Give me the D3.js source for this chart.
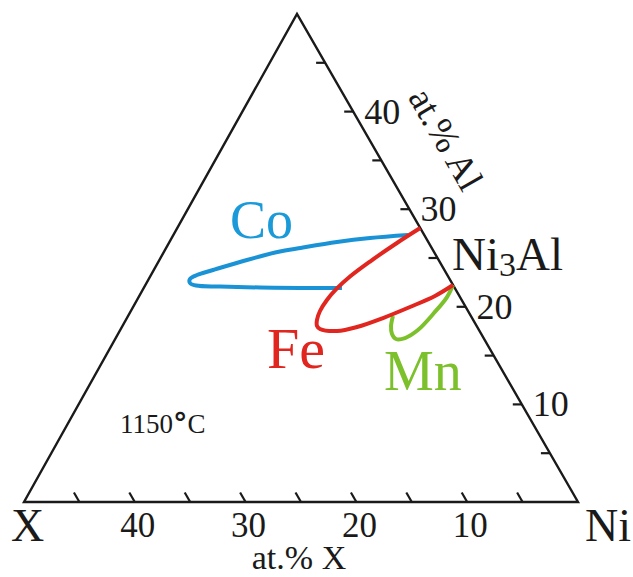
<!DOCTYPE html>
<html>
<head>
<meta charset="utf-8">
<script src="https://cdn.jsdelivr.net/npm/d3@7/dist/d3.min.js"></script>
<style>
  html, body { margin: 0; padding: 0; background: #fff; }
  svg { display: block; }
  text { font-family: "Liberation Serif", "Times New Roman", serif; }
</style>
</head>
<body>
<svg id="chart" width="633" height="577"></svg>
<script>
// ---- data (compositions in at.%: X = at.% X, Al = at.% Al) ----
const bottomTickValues = [5, 10, 15, 20, 25, 30, 35, 40, 45];
const bottomTickLabels = [40, 30, 20, 10];
const rightTickValues = [5, 10, 15, 20, 25, 30, 35, 40, 45];
const rightTickLabels = [10, 20, 30, 40];

const coX  = [1.46, 5.05, 8.24, 12.18, 13.88, 17.30, 20.88, 22.59, 23.43, 23.64, 23.22, 21.11, 17.55, 13.97, 10.18];
const coAl = [27.36, 27.05, 26.64, 25.97, 25.67, 24.80, 23.77, 23.26, 22.85, 22.44, 22.18, 22.08, 21.98, 21.93, 21.93];

const feX  = [0.0, 2.88, 6.27, 8.86, 10.66, 12.16, 13.36, 14.10, 14.41, 14.30, 12.86, 10.85, 8.04, 5.03, 2.20, 0.0];
const feAl = [28.07, 26.54, 24.64, 23.10, 21.88, 20.70, 19.57, 18.65, 18.03, 17.73, 17.52, 17.93, 18.85, 19.98, 21.11, 22.23];

const mnX  = [0.0, 1.17, 3.18, 5.51, 7.09, 7.95, 8.06, 7.73, 7.03];
const mnAl = [22.23, 21.00, 19.36, 17.62, 16.80, 16.70, 17.21, 18.03, 19.06];

// ---- geometry ----
const svg = d3.select("#chart");
const vNi = [578, 502], vX = [24, 502], vTop = [297, 14];
const sX   = d3.scaleLinear().domain([0, 50]).range([vNi[0], vX[0]]);           // X -> horizontal
const sAlX = d3.scaleLinear().domain([0, 50]).range([0, vTop[0] - vNi[0]]);     // Al -> horizontal shift
const sAlY = d3.scaleLinear().domain([0, 50]).range([vNi[1], vTop[1]]);         // Al -> vertical
const P = (X, Al) => [sX(X) + sAlX(Al), sAlY(Al)];

// triangle
svg.append("path")
  .attr("d", d3.line()([P(0,0), P(50,0), P(0,50)]) + "Z")
  .attr("fill", "none").attr("stroke", "#1a1a1a").attr("stroke-width", 2.4)
  .attr("stroke-linejoin", "miter");

// bottom ticks (parallel to Ni-Al side)
const dirR = [vTop[0]-vNi[0], vTop[1]-vNi[1]];
const lenR = Math.hypot(dirR[0], dirR[1]);
const tickLen = 11;
svg.append("g").selectAll("line").data(bottomTickValues).join("line")
  .attr("x1", d => P(d,0)[0]).attr("y1", d => P(d,0)[1])
  .attr("x2", d => P(d,0)[0] + dirR[0]/lenR*tickLen).attr("y2", d => P(d,0)[1] + dirR[1]/lenR*tickLen)
  .attr("stroke", "#1a1a1a").attr("stroke-width", 2.2);

// right ticks (horizontal, constant Al)
svg.append("g").selectAll("line").data(rightTickValues).join("line")
  .attr("x1", d => P(0,d)[0]).attr("y1", d => P(0,d)[1])
  .attr("x2", d => P(0,d)[0] - 9).attr("y2", d => P(0,d)[1])
  .attr("stroke", "#1a1a1a").attr("stroke-width", 2.2);

// bottom tick labels
svg.append("g").selectAll("text").data(bottomTickLabels).join("text")
  .attr("x", d => P(d,0)[0] + 3).attr("y", 537)
  .attr("text-anchor", "middle").attr("font-size", 35).attr("fill", "#1a1a1a")
  .text(d => d);

// right tick labels
svg.append("g").selectAll("text").data(rightTickLabels).join("text")
  .attr("x", d => P(0,d)[0] + 11).attr("y", d => P(0,d)[1] + 12)
  .attr("text-anchor", "start").attr("font-size", 36).attr("fill", "#1a1a1a")
  .text(d => d);

// corner labels
svg.append("text").attr("x", 11).attr("y", 541).attr("font-size", 46).attr("fill", "#1a1a1a").text("X");
svg.append("text").attr("x", 585).attr("y", 541).attr("font-size", 46).attr("fill", "#1a1a1a").text("Ni");
svg.append("text").attr("x", 299).attr("y", 569).attr("text-anchor", "middle")
  .attr("font-size", 34).attr("fill", "#1a1a1a").text("at.% X");

// rotated axis title along the right side
const ang = Math.atan2(-dirR[1], -dirR[0]) * 180 / Math.PI; // ~60 deg
svg.append("text")
  .attr("transform", `translate(446,139) rotate(${ang})`)
  .attr("text-anchor", "middle").attr("dominant-baseline", "central")
  .attr("font-size", 37).attr("fill", "#1a1a1a").text("at.% Al");

// Ni3Al label
const ni3 = svg.append("text").attr("x", 452).attr("y", 270).attr("font-size", 47).attr("fill", "#1a1a1a");
ni3.append("tspan").text("Ni");
ni3.append("tspan").attr("font-size", 34).attr("dy", 6).text("3");
ni3.append("tspan").attr("dy", -6).text("Al");

// temperature label
const tl = svg.append("text").attr("x", 120).attr("y", 433).attr("font-size", 27).attr("fill", "#1a1a1a");
tl.append("tspan").text("1150");
tl.append("tspan").attr("font-weight", "bold").attr("font-family", "DejaVu Sans").attr("font-size", 29).text("°");
tl.append("tspan").text("C");

// curves
const line = d3.line().x(d => P(d[0], d[1])[0]).y(d => P(d[0], d[1])[1]).curve(d3.curveCatmullRom.alpha(0.5));
const zip = (a, b) => a.map((v, i) => [v, b[i]]);
const series = [
  { name: "Co", X: coX, Al: coAl, color: "#1a92d6" },
  { name: "Mn", X: mnX, Al: mnAl, color: "#7cc12c" },
  { name: "Fe", X: feX, Al: feAl, color: "#e0261f" }
];
svg.append("g").selectAll("path").data(series).join("path")
  .attr("d", d => line(zip(d.X, d.Al)))
  .attr("fill", "none").attr("stroke", d => d.color)
  .attr("stroke-width", 4).attr("stroke-linecap", "butt").attr("stroke-linejoin", "round");

// series labels
svg.append("text").attr("x", 230).attr("y", 238).attr("font-size", 54).attr("fill", "#1a9ad8").text("Co");
svg.append("text").attr("x", 267).attr("y", 368).attr("font-size", 58).attr("fill", "#e0261f").text("Fe");
svg.append("text").attr("x", 384).attr("y", 390).attr("font-size", 56).attr("fill", "#7cc12c").text("Mn");
</script>
</body>
</html>
